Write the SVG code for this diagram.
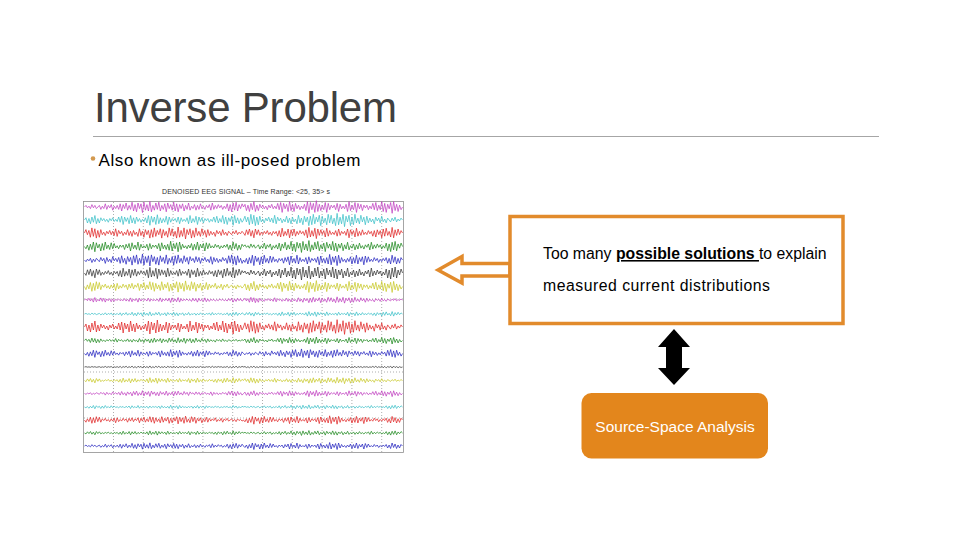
<svg xmlns="http://www.w3.org/2000/svg" xmlns:xlink="http://www.w3.org/1999/xlink" width="960" height="540" viewBox="0 0 960 540">
<style>
.ttl{font-family:"Liberation Sans",Arial,sans-serif;fill:#404040}
.body{font-family:"Liberation Sans",Arial,sans-serif;fill:#000}
.orng{stroke:#E28B2C;stroke-width:3.5;fill:#fff}
.grid{stroke:#8a8a8a;stroke-width:0.7;stroke-dasharray:1 2;fill:none}
.m{stroke:#c040c0}.c{stroke:#3cc0c8}.r{stroke:#e02828}.g{stroke:#208a20}
.b{stroke:#2828c0}.k{stroke:#383838}.y{stroke:#c8c828}
</style>
<defs>
<path id="wA" fill="none" stroke-width="0.75" vector-effect="non-scaling-stroke" stroke-linejoin="round" d="M0 0 L3 -2 6 1 9 -1 12 2 15 -3 18 1 21 -2 24 2 27 0 30 -2 33 3 36 -1 39 2 42 -4 45 3 48 -2 51 1 54 -3 57 4 60 -1 63 2 66 -2 69 3 72 -4 75 5 78 -3 81 2 84 -5 87 4 90 -2 93 3 96 -6 99 5 102 -3 105 6 108 -5 111 2 114 -4 117 7 120 -6 123 4 126 -3 129 5 132 -7 135 6 138 -2 141 4 144 -5 147 3 150 -6 153 5 156 -2 159 3 162 -4 165 6 168 -5 171 2 174 -3 177 4 180 -6 183 5 186 -4 189 6 192 -3 195 2 198 -4 201 5 204 -2 207 3 210 -5 213 4 216 -1 219 2 222 -3 225 4 228 -2 231 3 234 -4 237 2 240 -1 243 3 246 -2 249 1 252 -3 255 4 258 -5 261 3 264 -2 267 2 270 -3 273 1 276 -2 279 3 282 -1 285 2 288 -4 291 5 294 -3 297 6 300 -5 303 4 306 -6 309 5 312 -3 315 2 318 -4 321 0"/>
<path id="wB" fill="none" stroke-width="0.75" vector-effect="non-scaling-stroke" stroke-linejoin="round" d="M0 0 L3 -3 6 4 9 -2 12 5 15 -4 18 3 21 -6 24 5 27 -2 30 4 33 -3 36 1 39 -2 42 2 45 -1 48 3 51 -2 54 1 57 -3 60 2 63 -1 66 2 69 -4 72 3 75 -5 78 6 81 -4 84 2 87 -3 90 5 93 -6 96 4 99 -3 102 5 105 -4 108 2 111 -2 114 3 117 -1 120 2 123 -3 126 4 129 -6 132 7 135 -5 138 3 141 -4 144 6 147 -7 150 5 153 -3 156 4 159 -2 162 3 165 -5 168 6 171 -4 174 3 177 -2 180 1 183 -2 186 3 189 -4 192 5 195 -3 198 2 201 -1 204 2 207 -3 210 5 213 -6 216 4 219 -2 222 3 225 -5 228 6 231 -4 234 2 237 -3 240 4 243 -2 246 1 249 -2 252 3 255 -1 258 2 261 -4 264 3 267 -5 270 4 273 -2 276 3 279 -6 282 5 285 -4 288 6 291 -3 294 2 297 -5 300 7 303 -6 306 4 309 -3 312 5 315 -2 318 3 321 0"/>
</defs>
<rect width="960" height="540" fill="#fff"/>

<g id="title">
<text class="ttl" x="94" y="122" font-size="42" textLength="303">Inverse Problem</text>
<line x1="93" y1="136.5" x2="879" y2="136.5" stroke="#a6a6a6" stroke-width="1"/>
</g>

<g id="bullet">
<circle cx="93" cy="158.5" r="2.3" fill="#D39A50"/>
<text class="body" x="98.5" y="165.5" font-size="17" textLength="262" fill="#262626">Also known as ill-posed problem</text>
</g>

<g id="eeg-figure">
<text x="246" y="193.5" font-family="Liberation Sans,Arial,sans-serif" font-size="7" fill="#333" text-anchor="middle" textLength="168">DENOISED EEG SIGNAL – Time Range: &lt;25, 35&gt; s</text>
<rect x="83.5" y="201.5" width="320" height="251" fill="#fff" stroke="#909090" stroke-width="0.8"/>
<g class="grid">
<path d="M113.5 202V452M143.3 202V452M173.1 202V452M202.9 202V452M232.7 202V452M262.5 202V452M292.3 202V452M322.1 202V452M351.9 202V452M381.7 202V452"/>
<path d="M84 299H403M84 372H403M84 418H403"/>
</g>
<g id="traces">
<use xlink:href="#wA" class="m" transform="translate(84.5 207) scale(0.4955 0.8)"/>
<use xlink:href="#wB" class="m" transform="translate(243.5 207) scale(0.4955 0.9)"/>
<use xlink:href="#wB" class="c" transform="translate(84.5 220) scale(0.4955 0.75)"/>
<use xlink:href="#wA" class="c" transform="translate(402.5 220) scale(-0.4955 0.95)"/>
<use xlink:href="#wA" class="r" transform="translate(243.5 233) scale(-0.4955 0.85)"/>
<use xlink:href="#wB" class="r" transform="translate(243.5 233) scale(0.4955 -0.8)"/>
<use xlink:href="#wB" class="g" transform="translate(243.5 246.5) scale(-0.4955 0.75)"/>
<use xlink:href="#wA" class="g" transform="translate(243.5 246.5) scale(0.4955 0.85)"/>
<use xlink:href="#wA" class="b" transform="translate(84.5 260) scale(0.4955 -0.85)"/>
<use xlink:href="#wB" class="b" transform="translate(402.5 260) scale(-0.4955 0.8)"/>
<use xlink:href="#wB" class="k" transform="translate(84.5 273) scale(0.4955 -0.8)"/>
<use xlink:href="#wA" class="k" transform="translate(243.5 273) scale(0.4955 1)"/>
<use xlink:href="#wA" class="y" transform="translate(243.5 286.5) scale(-0.4955 -0.8)"/>
<use xlink:href="#wB" class="y" transform="translate(243.5 286.5) scale(0.4955 0.85)"/>
<use xlink:href="#wB" class="m" transform="translate(243.5 300) scale(-0.4955 -0.35)"/>
<use xlink:href="#wA" class="m" transform="translate(402.5 300) scale(-0.4955 0.45)"/>
<use xlink:href="#wA" class="c" transform="translate(84.5 314) scale(0.4955 0.3)"/>
<use xlink:href="#wB" class="c" transform="translate(243.5 314) scale(0.4955 -0.35)"/>
<use xlink:href="#wB" class="r" transform="translate(84.5 327) scale(0.4955 1)"/>
<use xlink:href="#wA" class="r" transform="translate(402.5 327) scale(-0.4955 1.05)"/>
<use xlink:href="#wA" class="g" transform="translate(243.5 340.5) scale(-0.4955 0.4)"/>
<use xlink:href="#wB" class="g" transform="translate(243.5 340.5) scale(0.4955 0.5)"/>
<use xlink:href="#wB" class="b" transform="translate(243.5 353.5) scale(-0.4955 0.55)"/>
<use xlink:href="#wA" class="b" transform="translate(243.5 353.5) scale(0.4955 -0.65)"/>
<use xlink:href="#wA" class="k" transform="translate(84.5 367) scale(0.4955 0.15)"/>
<use xlink:href="#wB" class="k" transform="translate(243.5 367) scale(0.4955 0.15)"/>
<use xlink:href="#wB" class="y" transform="translate(84.5 380.5) scale(0.4955 -0.4)"/>
<use xlink:href="#wA" class="y" transform="translate(402.5 380.5) scale(-0.4955 0.45)"/>
<use xlink:href="#wA" class="m" transform="translate(84.5 393.5) scale(0.4955 -0.4)"/>
<use xlink:href="#wB" class="m" transform="translate(243.5 393.5) scale(0.4955 0.45)"/>
<use xlink:href="#wB" class="c" transform="translate(243.5 407) scale(-0.4955 0.25)"/>
<use xlink:href="#wA" class="c" transform="translate(243.5 407) scale(0.4955 0.3)"/>
<use xlink:href="#wA" class="r" transform="translate(243.5 420) scale(-0.4955 -0.55)"/>
<use xlink:href="#wB" class="r" transform="translate(402.5 420) scale(-0.4955 0.6)"/>
<use xlink:href="#wB" class="g" transform="translate(84.5 433) scale(0.4955 -0.3)"/>
<use xlink:href="#wA" class="g" transform="translate(243.5 433) scale(0.4955 0.35)"/>
<use xlink:href="#wA" class="b" transform="translate(84.5 446) scale(0.4955 0.45)"/>
<use xlink:href="#wB" class="b" transform="translate(402.5 446) scale(-0.4955 0.5)"/>
</g>
</g>

<g id="connectors">
<polygon id="arrow-left" class="orng" points="438,270 462,256.5 462,263.5 510,263.5 510,276 462,276 462,283 "/>
<polygon id="arrow-double" fill="#000" points="674,329 690,347 682,347 682,368 690,368 674,385 658,368 666,368 666,347 658,347"/>
</g>

<g id="problem-box">
<rect class="orng" x="510" y="216.5" width="333" height="107"/>
<text class="body" x="543" y="259" font-size="15.8">Too many <tspan font-weight="bold" text-decoration="underline">possible solutions </tspan>to explain</text>
<text class="body" x="543" y="290.5" font-size="15.8" textLength="227">measured current distributions</text>
</g>

<g id="source-space">
<rect x="581.5" y="393" width="186.5" height="65.5" rx="10" fill="#E3861C"/>
<text x="675" y="432" font-family="Liberation Sans,Arial,sans-serif" font-size="15.5" fill="#fff" text-anchor="middle">Source-Space Analysis</text>
</g>
</svg>
